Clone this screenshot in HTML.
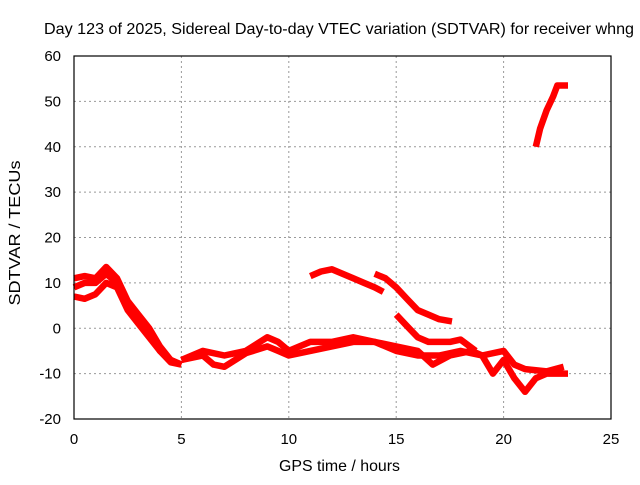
<!DOCTYPE html>
<html><head><meta charset="utf-8"><style>
body{margin:0;background:#fff;}
svg text{font-family:"Liberation Sans",sans-serif;font-size:15px;fill:#000;}
</style></head><body>
<svg id="chart" width="640" height="480" xmlns="http://www.w3.org/2000/svg">
<text x="44" y="34" textLength="590" lengthAdjust="spacingAndGlyphs" style="font-size:16px">Day 123 of 2025, Sidereal Day-to-day VTEC variation (SDTVAR) for receiver whng</text>
<g id="grid"></g>
<g id="series"></g>
<rect x="74" y="56" width="537" height="363" fill="none" stroke="#000" stroke-width="1.2"/>
<g id="ticks"></g>
<text x="279" y="471" textLength="121" lengthAdjust="spacingAndGlyphs" style="font-size:16px">GPS time / hours</text>
<text transform="translate(20,233) rotate(-90)" text-anchor="middle" textLength="145" lengthAdjust="spacingAndGlyphs" style="font-size:16px">SDTVAR / TECUs</text>
</svg>
<script>
const xTicks=[0,5,10,15,20,25];
const yTicks=[-20,-10,0,10,20,30,40,50,60];
const s1T=[0,0.5,1,1.5,2,2.5,3,3.5,4,4.5,5];
const s1V=[11,11.5,11,13.5,11,6,3,0,-4,-7,-8];
const s2T=[0,0.5,1,1.5,2,2.5,3,3.5,4,4.5,5];
const s2V=[9,10,10,12,10,5,2,-1,-5,-7,-8];
const s3T=[0,0.5,1,1.5,2,2.5,3,3.5,4,4.5,5];
const s3V=[7,6.5,7.5,10,9,4,1,-2,-5,-7.5,-8];
const s4T=[5,6,6.5,7,7.5,8,9,9.5,10,11,12,13,14,15,16,16.7,17.5,18.5,19,19.5,20,20.5,21,21.5,22,23];
const s4V=[-7,-6,-8,-8.5,-7,-5.5,-4,-5,-6,-5,-4,-3,-3,-4,-5,-8,-6,-5,-6,-10,-7,-11,-14,-11,-10,-10];
const s5T=[5,6,7,8,9,9.5,10,10.5,11,12,13,14,15,16,17,18,19,20,20.5,21,22,22.8];
const s5V=[-7,-5,-6,-5,-2,-3,-5,-4,-3,-3,-2,-3,-5,-6,-6,-5,-6,-5,-8,-9,-9.5,-8.5];
const s6T=[11,11.5,12,12.5,13,13.5,14,14.4];
const s6V=[11.5,12.5,13,12,11,10,9,8];
const s7T=[14,14.5,15,15.5,16,16.5,17,17.6];
const s7V=[12,11,9,6.5,4,3,2,1.5];
const s8T=[15,15.5,16,16.5,17,17.5,18,18.7];
const s8V=[3,0.5,-2,-3,-3,-3,-2.5,-5];
const s9T=[21.5,21.7,22,22.3,22.5,23];
const s9V=[40,44,48,51,53.5,53.5];
const X=t=>74+t*537/25;
const Y=v=>419-(v+20)*363/80;
const NS="http://www.w3.org/2000/svg";
const grid=document.getElementById('grid'),ticks=document.getElementById('ticks'),ser=document.getElementById('series');
function mk(tag,attrs,parent){const e=document.createElementNS(NS,tag);for(const k in attrs)e.setAttribute(k,attrs[k]);parent.appendChild(e);return e;}
xTicks.forEach(t=>{const x=X(t);
 if(t>0&&t<25){const g=mk('line',{x1:x,x2:x,y1:56,y2:419,stroke:'#999','stroke-dasharray':'2,3'},grid);
 
 }
 const l=mk('text',{x:x,y:444,'text-anchor':'middle'},ticks);l.textContent=t;
 
 });
yTicks.forEach(v=>{const y=Y(v);
 if(v>-20&&v<60){const g=mk('line',{x1:74,x2:611,y1:y,y2:y,stroke:'#999','stroke-dasharray':'2,3'},grid);
 
 }
 const l=mk('text',{x:61,y:y+5,'text-anchor':'end'},ticks);l.textContent=v;
 
 });
[[s1T,s1V],[s2T,s2V],[s3T,s3V],[s4T,s4V],[s5T,s5V],[s6T,s6V],[s7T,s7V],[s8T,s8V],[s9T,s9V]].forEach((s,i)=>{
 const pts=s[0].map((t,j)=>X(t).toFixed(1)+','+Y(s[1][j]).toFixed(1)).join(' ');
 const p=mk('polyline',{points:pts,fill:'none',stroke:'#f00','stroke-width':6.5,'stroke-linejoin':'round','stroke-linecap':'butt'},ser);
 
 });
</script>
</body></html>
